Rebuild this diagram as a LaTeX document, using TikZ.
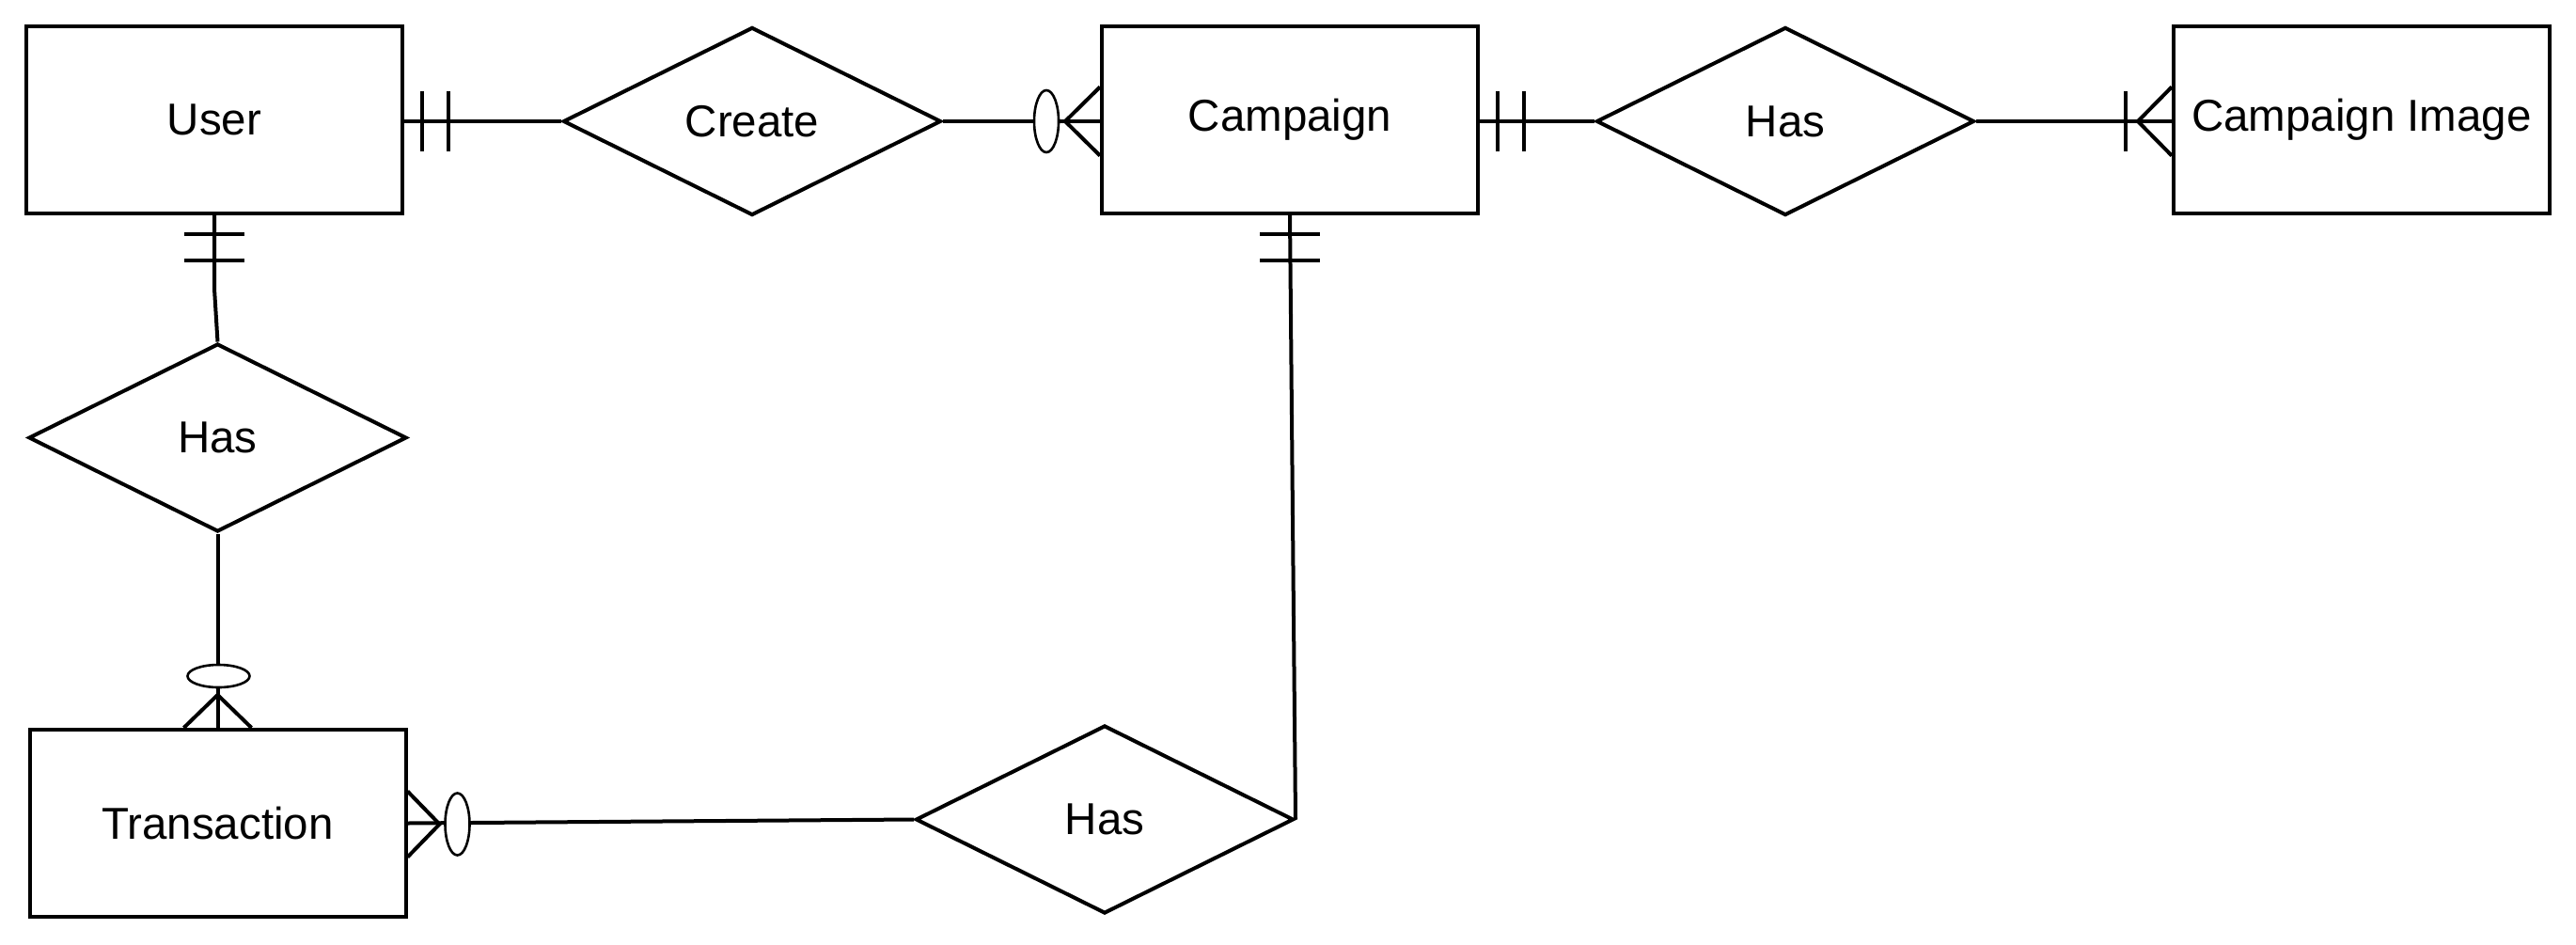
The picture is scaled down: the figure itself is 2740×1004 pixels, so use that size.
\documentclass[tikz,border=0pt]{standalone}
\usepackage{fontspec}
\setmainfont{Liberation Sans}
\usetikzlibrary{shapes.geometric,calc}

\tikzset{
  erfont/.style={font=\fontsize{47.5}{57}\selectfont},
  entity/.style={draw, line width=4pt, rectangle, minimum width=400pt, minimum height=199pt, inner sep=0pt, erfont},
  relation/.style={draw, line width=4pt, diamond, minimum width=402pt, minimum height=200pt, inner sep=0pt, erfont},
  link/.style={line width=4pt},
  optmark/.style={draw, fill=white, line width=2.6pt}
}

\begin{document}
\begin{tikzpicture}[x=1pt,y=1pt,yscale=-1]
\useasboundingbox (0,0) rectangle (2740,1004);

% Entities
\node[entity] (user) at (228,127.5) {User};
\node[entity] (campaign) at (1372,127.5) {Campaign};
\node[entity] (campimg) at (2512,127.5) {Campaign Image};
\node[entity] (transaction) at (231.5,875.5) {Transaction};

% Relations
\node[relation] (create) at (800,129) {Create};
\node[relation] (hasimg) at (1899,129) {Has};
\node[relation] (hasuser) at (231.5,465.5) {Has};
\node[relation] (hastrans) at (1175,871.5) {Has};

% Connectors
\draw[link] (create.west -| user.east) -- (create.west);
\draw[link] (create.east) -- (create.east -| campaign.west);
\draw[link] (hasimg.west -| campaign.east) -- (hasimg.west);
\draw[link] (hasimg.east) -- (hasimg.east -| campimg.west);
\draw[link] (user.south) -- ++(0,78) -- (hasuser.north);
\draw[link] (hasuser.south) -- (transaction.north);
\draw[link] (transaction.east) -- (hastrans.west);
\draw[link] (campaign.south) -- (hastrans.east);

% User -- Create : exactly one
\draw[link] ($(user.east)+(19,-31)$) -- ($(user.east)+(19,33)$);
\draw[link] ($(user.east)+(47,-31)$) -- ($(user.east)+(47,33)$);

% Create -- Campaign : zero or many
\draw[link] ($(campaign.west)+(0,-35)$) -- ($(campaign.west)+(-37,1.5)$) -- ($(campaign.west)+(0,38)$);
\draw[optmark] ($(campaign.west)+(-57,1.5)$) ellipse [x radius=13, y radius=33];

% Campaign -- Has : exactly one
\draw[link] ($(campaign.east)+(19,-31)$) -- ($(campaign.east)+(19,33)$);
\draw[link] ($(campaign.east)+(47,-31)$) -- ($(campaign.east)+(47,33)$);

% Has -- Campaign Image : one or many
\draw[link] ($(campimg.west)+(0,-35)$) -- ($(campimg.west)+(-36,1.5)$) -- ($(campimg.west)+(0,38)$);
\draw[link] ($(campimg.west)+(-49,-31)$) -- ($(campimg.west)+(-49,33)$);

% User -- Has : exactly one
\draw[link] ($(user.south)+(-32,20)$) -- ($(user.south)+(32,20)$);
\draw[link] ($(user.south)+(-32,48)$) -- ($(user.south)+(32,48)$);

% Has -- Transaction : zero or many
\draw[link] ($(transaction.north)+(-36,0)$) -- ($(transaction.north)+(0,-35)$) -- ($(transaction.north)+(36,0)$);
\draw[optmark] ($(transaction.north)+(1,-55)$) ellipse [x radius=33, y radius=12];

% Transaction -- Has : zero or many
\draw[link] ($(transaction.east)+(0,-34)$) -- ($(transaction.east)+(34,1)$) -- ($(transaction.east)+(0,36)$);
\draw[optmark] ($(transaction.east)+(53,1)$) ellipse [x radius=13, y radius=33];

% Campaign -- Has : exactly one
\draw[link] ($(campaign.south)+(-32,20)$) -- ($(campaign.south)+(32,20)$);
\draw[link] ($(campaign.south)+(-32,48)$) -- ($(campaign.south)+(32,48)$);
\end{tikzpicture}
\end{document}
